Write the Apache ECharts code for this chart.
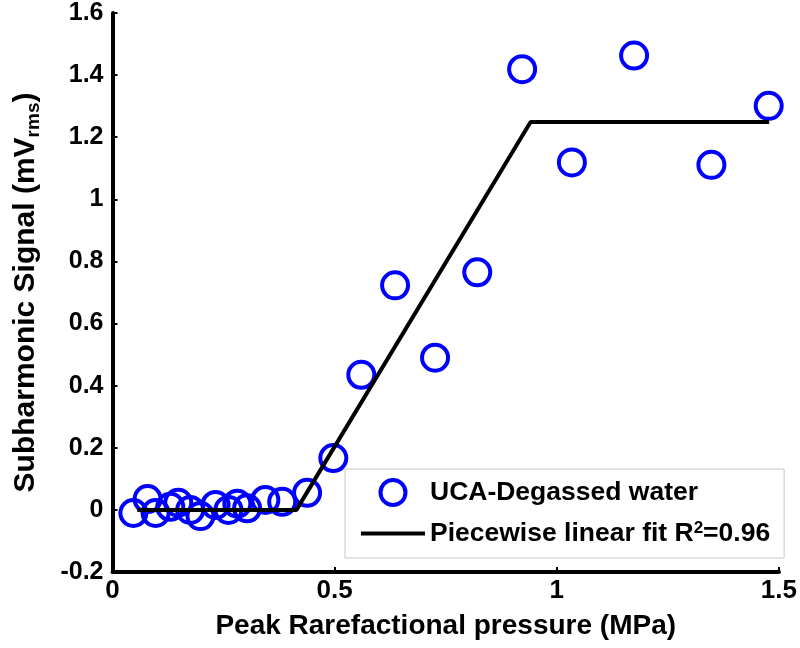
<!DOCTYPE html>
<html>
<head>
<meta charset="utf-8">
<script src="https://cdn.jsdelivr.net/npm/echarts@6/dist/echarts.min.js"></script>
<style>html,body{margin:0;padding:0;background:#fff}#c{width:800px;height:648px}</style>
</head>
<body>
<div id="c"></div>
<script>
// Data
var pressure = [0.047, 0.079, 0.097, 0.13, 0.148, 0.175, 0.198, 0.232, 0.261, 0.281, 0.303, 0.344, 0.382, 0.438, 0.497, 0.56, 0.636, 0.726, 0.821, 0.922, 1.034, 1.174, 1.348, 1.477];
var signal = [-0.01, 0.035, -0.01, 0.01, 0.023, 0.0, -0.02, 0.016, 0.0, 0.02, 0.005, 0.032, 0.026, 0.055, 0.167, 0.435, 0.723, 0.49, 0.765, 1.419, 1.119, 1.463, 1.111, 1.301];
var fitX = [0.056, 0.414, 0.941, 1.478];
var fitY = [0, 0, 1.249, 1.249];
var seriesNames = ['UCA-Degassed water', 'Piecewise linear fit R2=0.96'];

var FONT = 'Liberation Sans, Arial, Helvetica, sans-serif';
var chart = echarts.init(document.getElementById('c'));
var scatterData = pressure.map(function (x, i) { return [x, signal[i]]; });
var fitData = fitX.map(function (x, i) { return [x, fitY[i]]; });

chart.setOption({
  animation: false,
  backgroundColor: '#fff',
  grid: { left: 112, right: 21, top: 13, bottom: 76, containLabel: false },
  xAxis: {
    type: 'value', min: 0, max: 1.5, interval: 0.5,
    name: 'Peak Rarefactional pressure (MPa)', nameLocation: 'middle', nameGap: 40,
    nameTextStyle: { fontFamily: FONT, fontWeight: 'bold', fontSize: 28, color: '#000' },
    axisLine: { onZero: false, lineStyle: { color: '#000', width: 4 } },
    axisTick: { inside: true, length: 5, lineStyle: { color: '#000', width: 2 } },
    axisLabel: { fontFamily: FONT, fontWeight: 'bold', fontSize: 26, color: '#000', margin: 6 },
    splitLine: { show: false }
  },
  yAxis: {
    type: 'value', min: -0.2, max: 1.6, interval: 0.2,
    name: '{a|Subharmonic Signal (mV}{sub|rms}{a|)}', nameLocation: 'middle', nameGap: 72,
    nameTextStyle: {
      fontFamily: FONT, fontWeight: 'bold', fontSize: 30, color: '#000',
      rich: {
        a: { fontFamily: FONT, fontWeight: 'bold', fontSize: 30, color: '#000' },
        sub: { fontFamily: FONT, fontWeight: 'bold', fontSize: 19, color: '#000', lineHeight: 19, padding: [16, 0, 0, 0] }
      }
    },
    axisLine: { onZero: false, lineStyle: { color: '#000', width: 4 } },
    axisTick: { inside: true, length: 5, lineStyle: { color: '#000', width: 2 } },
    axisLabel: { fontFamily: FONT, fontWeight: 'bold', fontSize: 25, color: '#000', margin: 9 },
    splitLine: { show: false }
  },
  legend: {
    orient: 'vertical', left: 345, top: 469,
    padding: [9, 14, 11, 14], itemGap: 13,
    itemWidth: 64, itemHeight: 25,
    backgroundColor: '#fff', borderColor: '#c8c8c8', borderWidth: 1, borderRadius: 0,
    data: [
      { name: seriesNames[0], icon: 'circle', itemStyle: { color: 'rgba(0,0,0,0)', borderColor: '#0000ff', borderWidth: 4 } },
      { name: seriesNames[1], itemStyle: { color: 'rgba(0,0,0,0)', borderColor: 'rgba(0,0,0,0)', borderWidth: 0, opacity: 0 }, lineStyle: { color: '#000', width: 4, opacity: 1 } }
    ],
    formatter: function (n) {
      if (n === seriesNames[1]) return '{a|Piecewise linear fit R}{sup|2}{a|=0.96}';
      return '{a|' + n + '}';
    },
    textStyle: {
      fontFamily: FONT, fontWeight: 'bold', fontSize: 26.5, color: '#000',
      rich: {
        a: { fontFamily: FONT, fontWeight: 'bold', fontSize: 26.5, color: '#000' },
        sup: { fontFamily: FONT, fontWeight: 'bold', fontSize: 17, color: '#000', lineHeight: 17, padding: [0, 0, 10, 0] }
      }
    }
  },
  series: [
    {
      name: seriesNames[0], type: 'scatter', data: scatterData,
      symbol: 'circle', symbolSize: 26, z: 2,
      itemStyle: { color: 'rgba(0,0,0,0)', borderColor: '#0000ff', borderWidth: 4, opacity: 1 }
    },
    {
      name: seriesNames[1], type: 'line', data: fitData, z: 3,
      symbol: 'none', showSymbol: false,
      lineStyle: { color: '#000', width: 4 },
      itemStyle: { color: '#000' }
    }
  ]
});
</script>
</body>
</html>
